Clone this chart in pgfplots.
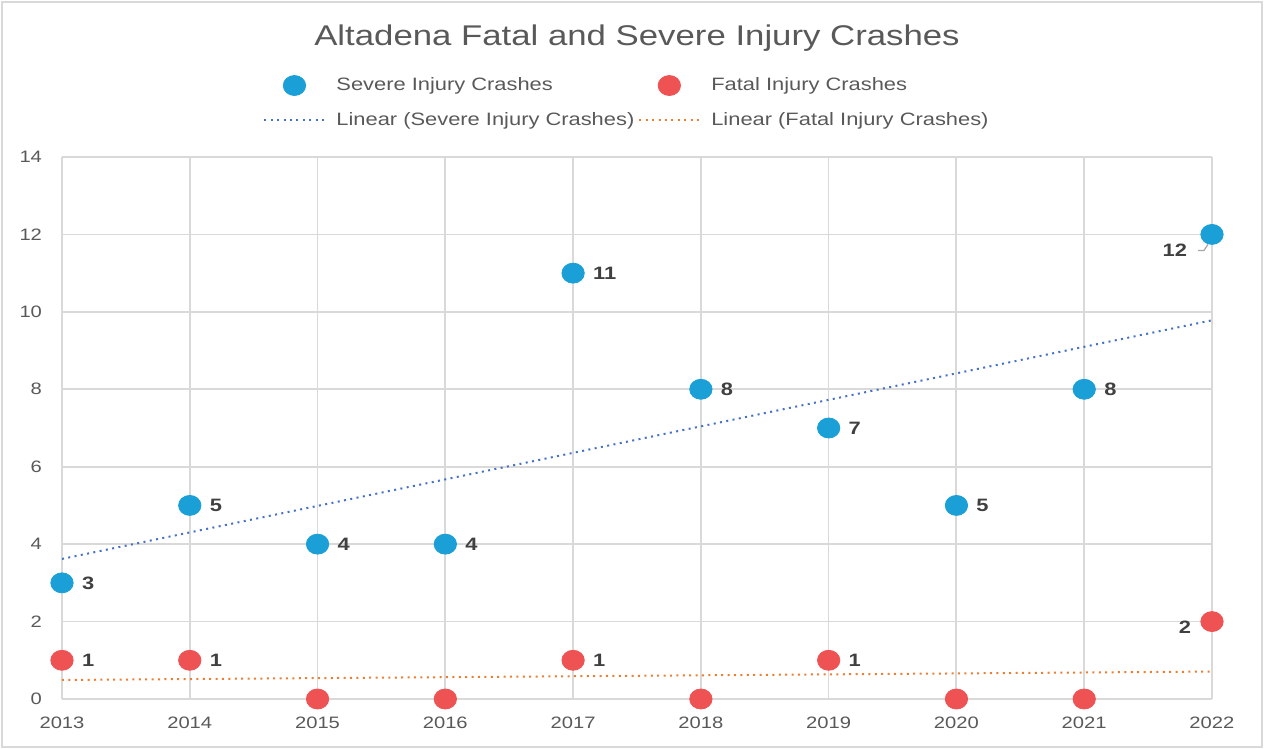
\documentclass[border=0pt]{standalone}
\usepackage{fontspec}
\setmainfont{Liberation Sans}[FakeStretch=1.22]
\usepackage{pgfplots}
\pgfplotsset{compat=1.18}
\definecolor{sev}{HTML}{1A9FD6}
\definecolor{fat}{HTML}{EE5253}
\definecolor{tsev}{HTML}{4472C4}
\definecolor{tfat}{HTML}{ED7D31}
\definecolor{gridc}{HTML}{D9D9D9}
\definecolor{txt}{HTML}{595959}
\definecolor{lbl}{HTML}{404040}
\pgfplotsset{
 markleg/.style={legend image code/.code={\draw[mark repeat=2, mark phase=2, #1] plot coordinates {(0bp,0bp)(15bp,0bp)(30bp,0bp)};}},
 lineleg/.style={legend image code/.code={\draw[#1] (0bp,0bp) -- (30bp,0bp);}},
}
\begin{document}
\begin{tikzpicture}
\begin{axis}[
 scale only axis, width=575bp, height=271bp,
 xmin=2013, xmax=2022, ymin=0, ymax=14,
 xtick={2013,2014,...,2022}, ytick={0,2,...,14},
 /pgf/number format/1000 sep={},
 /pgf/number format/assume math mode=true,
 grid=major, major grid style={gridc, line width=0.9bp},
 axis line style={draw=none}, tick style={draw=none},
 ticklabel style={font=\fontsize{8.3}{10}\selectfont, text=txt},
 xticklabel style={yshift=-5.5bp},
 yticklabel style={xshift=-6.5bp},
 clip=false,
 title={Altadena Fatal and Severe Injury Crashes},
 title style={font=\fontsize{14.3}{17}\selectfont, text=txt, at={(0.5,1)}, anchor=center, yshift=53.5bp},
 legend columns=2,
 legend cell align=left,
 legend style={at={(0.5,1)}, anchor=center, yshift=27bp, xshift=-4.5bp, draw=none, fill=none,
   font=\fontsize{9}{11}\selectfont, text=txt, row sep=5.5bp,
   /tikz/every even column/.append style={column sep=0bp},
   /tikz/every odd column/.append style={column sep=3.5bp}},
 every node near coord/.append style={font=\fontsize{9}{11}\selectfont\bfseries, text=lbl},
]
\addplot[only marks, mark=*, mark size=5bp, mark options={fill=sev, draw=sev, xscale=1.12}, markleg]
 coordinates {(2013,3)(2014,5)(2015,4)(2016,4)(2017,11)(2018,8)(2019,7)(2020,5)(2021,8)(2022,12)};
\addlegendentry{Severe Injury Crashes}
\addplot[only marks, mark=*, mark size=5bp, mark options={fill=fat, draw=fat, xscale=1.12}, markleg]
 coordinates {(2013,1)(2014,1)(2015,0)(2016,0)(2017,1)(2018,0)(2019,1)(2020,0)(2021,0)(2022,2)};
\addlegendentry{Fatal Injury Crashes}
\addplot[tsev, line width=1bp, dash pattern=on 1bp off 2.2bp, mark=none, lineleg]
 coordinates {(2013,3.618)(2022,9.782)};
\addlegendentry{Linear (Severe Injury Crashes)}
\addplot[tfat, line width=1bp, dash pattern=on 1bp off 2.2bp, mark=none, lineleg]
 coordinates {(2013,0.491)(2022,0.709)};
\addlegendentry{Linear (Fatal Injury Crashes)}
% data labels
\addplot[draw=none, mark=none, forget plot, nodes near coords,
  every node near coord/.append style={anchor=west, xshift=6.5bp}]
 coordinates {(2013,3)(2014,5)(2015,4)(2016,4)(2017,11)(2018,8)(2019,7)(2020,5)(2021,8)};
\addplot[draw=none, mark=none, forget plot, nodes near coords,
  every node near coord/.append style={anchor=west, xshift=6.5bp}]
 coordinates {(2013,1)(2014,1)(2017,1)(2019,1)};
\addplot[draw=none, mark=none, forget plot, nodes near coords,
  every node near coord/.append style={anchor=east, xshift=-9bp, yshift=-8bp}]
 coordinates {(2022,12)};
\addplot[draw=none, mark=none, forget plot, nodes near coords,
  every node near coord/.append style={anchor=east, xshift=-7bp, yshift=-3bp}]
 coordinates {(2022,2)};
\draw[gray!70, line width=0.6bp] (axis cs:2022,12) ++(-2bp,-5bp) -- ++(-2bp,-3bp) -- ++(-3bp,0bp);
\end{axis}
\draw[gridc, line width=0.9bp] (-30bp,-24bp) rectangle (600bp,348.5bp);
\pgfresetboundingbox
\useasboundingbox (-31bp,-25bp) rectangle (601bp,349.5bp);
\end{tikzpicture}
\end{document}
